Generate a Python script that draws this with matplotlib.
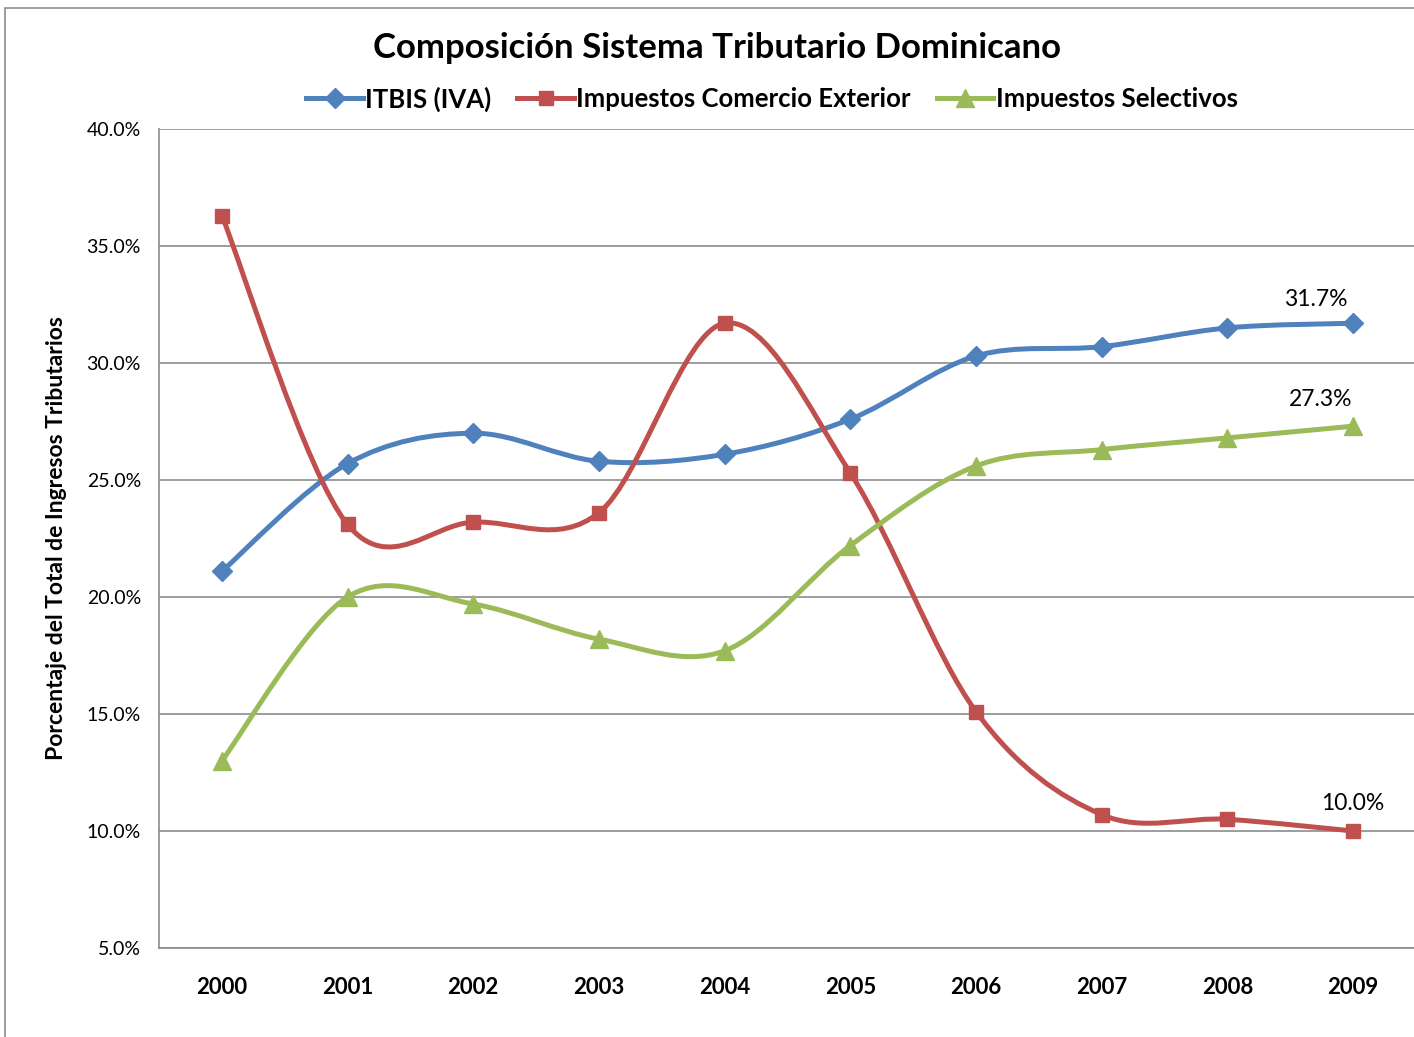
import matplotlib
matplotlib.use("Agg")
import matplotlib.pyplot as plt
import numpy as np
from matplotlib.path import Path
from matplotlib.patches import PathPatch, Rectangle
from matplotlib.lines import Line2D
from matplotlib.ticker import FuncFormatter

years = ["2000", "2001", "2002", "2003", "2004", "2005", "2006", "2007", "2008", "2009"]
itbis = [21.1, 25.7, 27.0, 25.8, 26.1, 27.6, 30.3, 30.7, 31.5, 31.7]
comercio = [36.3, 23.1, 23.2, 23.6, 31.7, 25.3, 15.1, 10.7, 10.5, 10.0]
selectivos = [13.0, 20.0, 19.7, 18.2, 17.7, 22.2, 25.6, 26.3, 26.8, 27.3]
names = ["ITBIS (IVA)", "Impuestos Comercio Exterior", "Impuestos Selectivos"]
colors = ["#4F81BD", "#C0504D", "#9BBB59"]
markers = ["D", "s", "^"]
msizes = [10.5, 10, 13]

plt.rcParams['font.family'] = ['Lato', 'DejaVu Sans']

W, H = 1414, 1037
fig = plt.figure(figsize=(W / 100, H / 100), dpi=100)
# outer chart border (cropped on right/bottom)
fig.patches.append(Rectangle((5 / W, -0.1), 1.2, 1 - 8 / H + 0.1, transform=fig.transFigure,
                             fill=False, edgecolor="#8C8C8C", linewidth=1.2))

ax = fig.add_axes([159 / W, 1 - 948 / H, (1416 - 159) / W, (948 - 129) / H])
x = np.arange(len(years))


def smooth_path(xs, ys):
    # Bezier segments through the points (Excel-like smoothed line)
    pts = np.column_stack([xs, ys]).astype(float)
    n = len(pts)
    verts = [pts[0]]
    codes = [Path.MOVETO]
    for i in range(n - 1):
        p0 = pts[i - 1] if i > 0 else pts[i]
        p1 = pts[i]
        p2 = pts[i + 1]
        p3 = pts[i + 2] if i + 2 < n else pts[i + 1]
        c1 = p1 + (p2 - p0) / 6.0
        c2 = p2 - (p3 - p1) / 6.0
        verts += [c1, c2, p2]
        codes += [Path.CURVE4] * 3
    return Path(verts, codes)


for ys, c, m, ms in zip([itbis, comercio, selectivos], colors, markers, msizes):
    ax.add_patch(PathPatch(smooth_path(x, ys), fill=False, edgecolor=c, linewidth=3.6, zorder=3,
                           capstyle="round"))
    ax.plot(x, ys, linestyle="none", marker=m, markersize=ms, color=c, zorder=4)

ax.set_xlim(-0.5, len(years) - 0.5)
ax.set_ylim(5, 40)
ax.set_yticks(np.arange(5, 40.1, 5))
ax.yaxis.set_major_formatter(FuncFormatter(lambda v, p: f"{v:.1f}%"))
ax.set_xticks(x)
ax.set_xticklabels(years, fontsize=16, fontweight="bold")
ax.tick_params(axis="x", length=0, pad=21)
ax.tick_params(axis="y", length=0, pad=13, labelsize=14)
ax.grid(axis="y", color="#8C8C8C", linewidth=1.2)
ax.set_axisbelow(True)
for s in ["top", "right"]:
    ax.spines[s].set_visible(False)
for s in ["left", "bottom"]:
    ax.spines[s].set_color("#8C8C8C")
    ax.spines[s].set_linewidth(1.2)

ax.set_ylabel("Porcentaje del Total de Ingresos Tributarios", fontsize=16.5, fontweight="bold")
ax.yaxis.set_label_coords((67 - 159) / (1416 - 159), 0.5)

# data labels on last point
ax.annotate(f"{itbis[-1]:.1f}%", (x[-1], itbis[-1]), xytext=(-37, 24), textcoords="offset pixels",
            ha="center", va="center", fontsize=16.5)
ax.annotate(f"{selectivos[-1]:.1f}%", (x[-1], selectivos[-1]), xytext=(-33, 27), textcoords="offset pixels",
            ha="center", va="center", fontsize=16.5)
ax.annotate(f"{comercio[-1]:.1f}%", (x[-1], comercio[-1]), xytext=(0, 28), textcoords="offset pixels",
            ha="center", va="center", fontsize=16.5)

fig.text(717 / W, 1 - 48 / H, "Composición Sistema Tributario Dominicano", ha="center", va="center",
         fontsize=25, fontweight="bold")

handles = [Line2D([0], [0], color=c, marker=m, markersize=ms, linewidth=3.6)
           for c, m, ms in zip(colors, markers, msizes)]
fig.legend(handles, names, loc="center", bbox_to_anchor=(772 / W, 1 - 99 / H), ncol=3, frameon=False,
           prop={"size": 18.5, "weight": "bold"}, handlelength=2.2, handletextpad=0.1, columnspacing=1.0)

fig.savefig("out.png", dpi=100)
